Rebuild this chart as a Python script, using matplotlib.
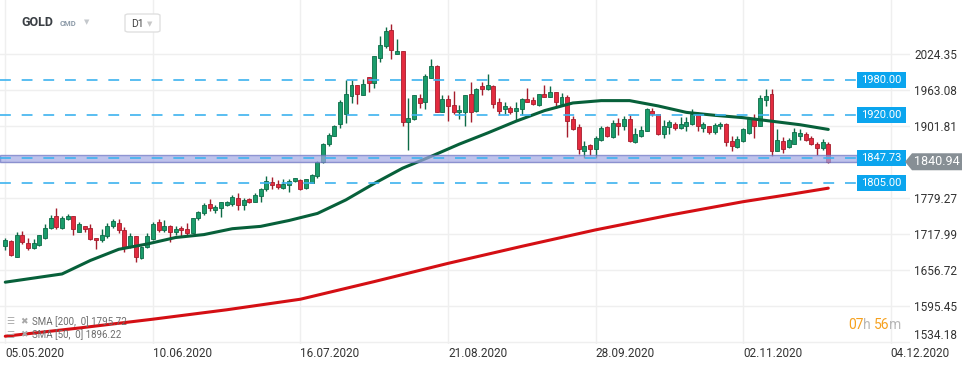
import numpy as np
import matplotlib
matplotlib.use("Agg")
import matplotlib.pyplot as plt
from matplotlib.patches import Rectangle, Polygon, FancyBboxPatch
from matplotlib.transforms import blended_transform_factory

plt.rcParams['font.family'] = ['Roboto', 'DejaVu Sans']

# daily candles, 05.05.2020 .. 23.11.2020 (one per trading day)
opens = [1698, 1706, 1679, 1716, 1703, 1695, 1699, 1712, 1728, 1748,
         1729, 1743, 1748, 1722, 1731, 1728, 1711, 1708, 1715, 1732,
         1737, 1725, 1696, 1714, 1677, 1696, 1710, 1738, 1725, 1732,
         1722, 1728, 1727, 1720, 1746, 1754, 1769, 1759, 1762, 1768,
         1769, 1780, 1767, 1778, 1773, 1783, 1794, 1806, 1803, 1797,
         1801, 1808, 1810, 1796, 1805, 1816, 1841, 1872, 1885, 1905,
         1923, 1953, 1971, 1955, 1985, 1975, 2017, 2038, 2065, 2025,
         2029, 1909, 1914, 1949, 1943, 1984, 2004, 1926, 1947, 1938,
         1925, 1926, 1956, 1928, 1970, 1965, 1970, 1942, 1931, 1932,
         1928, 1930, 1947, 1946, 1938, 1957, 1952, 1959, 1940, 1951,
         1913, 1900, 1860, 1869, 1862, 1878, 1900, 1883, 1907, 1902,
         1913, 1875, 1885, 1894, 1927, 1922, 1888, 1900, 1906, 1898,
         1901, 1906, 1923, 1899, 1901, 1892, 1901, 1905, 1877, 1866,
         1877, 1890, 1914, 1902, 1946, 1957, 1860, 1877, 1866, 1872,
         1885, 1889, 1881, 1872, 1864, 1871]
highs = [1711, 1707, 1722, 1723, 1711, 1709, 1717, 1735, 1750, 1763,
         1749, 1752, 1749, 1738, 1732, 1735, 1712, 1726, 1737, 1743,
         1744, 1730, 1720, 1715, 1697, 1719, 1739, 1744, 1742, 1733,
         1732, 1732, 1736, 1745, 1757, 1771, 1777, 1767, 1773, 1774,
         1785, 1787, 1779, 1779, 1787, 1797, 1817, 1815, 1810, 1812,
         1811, 1814, 1811, 1812, 1820, 1843, 1873, 1890, 1903, 1946,
         1980, 1980, 1972, 1982, 1986, 2021, 2055, 2070, 2075, 2050,
         2029, 1949, 1954, 1957, 1990, 2016, 2006, 1954, 1955, 1961,
         1938, 1955, 1976, 1966, 1976, 1991, 1972, 1949, 1942, 1935,
         1942, 1949, 1966, 1951, 1957, 1972, 1970, 1960, 1958, 1955,
         1918, 1905, 1877, 1872, 1885, 1901, 1902, 1912, 1916, 1918,
         1921, 1898, 1902, 1932, 1932, 1923, 1912, 1912, 1909, 1917,
         1917, 1930, 1926, 1909, 1902, 1907, 1909, 1907, 1885, 1884,
         1898, 1915, 1923, 1955, 1964, 1964, 1896, 1883, 1882, 1898,
         1896, 1892, 1884, 1875, 1880, 1875]
lows = [1690, 1681, 1679, 1701, 1690, 1693, 1698, 1710, 1727, 1727,
        1727, 1741, 1717, 1721, 1721, 1708, 1693, 1705, 1712, 1729,
        1720, 1688, 1694, 1670, 1676, 1694, 1708, 1721, 1722, 1704,
        1716, 1715, 1716, 1719, 1742, 1750, 1757, 1753, 1747, 1766,
        1766, 1758, 1758, 1771, 1772, 1773, 1792, 1795, 1795, 1795,
        1790, 1806, 1793, 1795, 1804, 1814, 1839, 1867, 1884, 1898,
        1907, 1941, 1939, 1954, 1960, 1967, 2010, 2034, 2016, 2024,
        1901, 1861, 1912, 1932, 1930, 1983, 1925, 1925, 1910, 1923,
        1914, 1902, 1909, 1926, 1955, 1963, 1933, 1921, 1923, 1922,
        1911, 1921, 1942, 1938, 1936, 1951, 1951, 1932, 1938, 1883,
        1895, 1855, 1848, 1852, 1848, 1876, 1883, 1882, 1886, 1895,
        1875, 1873, 1883, 1894, 1918, 1886, 1882, 1888, 1895, 1896,
        1894, 1904, 1893, 1892, 1889, 1889, 1897, 1867, 1860, 1865,
        1875, 1888, 1882, 1902, 1936, 1850, 1859, 1856, 1864, 1871,
        1878, 1876, 1869, 1852, 1861, 1838]
closes = [1707, 1682, 1716, 1705, 1695, 1702, 1716, 1729, 1745, 1730,
          1745, 1749, 1726, 1735, 1727, 1709, 1707, 1717, 1731, 1740,
          1724, 1696, 1715, 1679, 1696, 1715, 1735, 1725, 1732, 1722,
          1727, 1724, 1720, 1745, 1755, 1767, 1763, 1764, 1772, 1772,
          1781, 1767, 1776, 1772, 1785, 1795, 1809, 1801, 1798, 1803,
          1809, 1813, 1794, 1811, 1818, 1841, 1872, 1886, 1902, 1942,
          1956, 1971, 1956, 1974, 1975, 2021, 2040, 2063, 2031, 2029,
          1909, 1916, 1954, 1941, 1987, 2004, 1926, 1947, 1936, 1926,
          1929, 1955, 1926, 1964, 1965, 1972, 1940, 1928, 1936, 1926,
          1932, 1947, 1943, 1939, 1956, 1952, 1959, 1942, 1951, 1911,
          1897, 1862, 1868, 1862, 1881, 1898, 1884, 1907, 1901, 1914,
          1876, 1888, 1895, 1930, 1922, 1888, 1902, 1908, 1898, 1905,
          1908, 1923, 1902, 1905, 1891, 1904, 1906, 1875, 1867, 1879,
          1896, 1914, 1901, 1949, 1953, 1859, 1878, 1863, 1878, 1891,
          1890, 1878, 1871, 1864, 1875, 1841]
last_price = 1840.94

# moving averages (bar index, value)
sma50_bars = [0, 5, 10, 15, 20, 25, 30, 35, 40, 45, 50, 55, 60, 65, 70,
              75, 80, 85, 90, 95, 100, 105, 110, 115, 120, 125, 130, 135, 140, 145]
sma50_vals = [1636, 1643, 1650, 1673, 1692, 1701, 1712, 1717, 1727, 1731,
              1741, 1753, 1776, 1804, 1830, 1850, 1871, 1890, 1910, 1928,
              1941, 1945, 1945, 1936, 1925, 1920, 1916, 1910, 1904, 1896]
sma200_bars = [0, 13, 26, 39, 52, 65, 78, 91, 104, 117, 130, 138, 145]
sma200_vals = [1544, 1558, 1573, 1589, 1607, 1637, 1668, 1697, 1725, 1750,
               1773, 1785, 1796]
sma50_last = 1896.22
sma200_last = 1795.72

# horizontal levels
levels = [1980.00, 1920.00, 1847.73, 1805.00]
zone_low, zone_high = 1840.0, 1852.5

y_ticks = [1534.18, 1595.45, 1656.72, 1717.99, 1779.27, 1840.54,
           1901.81, 1963.08, 2024.35]
date_pos = [0, 26, 52, 78, 104, 130, 156]
date_labels = ["05.05.2020", "10.06.2020", "16.07.2020", "21.08.2020",
               "28.09.2020", "02.11.2020", "04.12.2020"]

W, H = 974, 368
fig = plt.figure(figsize=(W / 100, H / 100), dpi=100)
fig.patch.set_facecolor('white')
ax = fig.add_axes([0, (H - 344) / H, 910 / W, 344 / H])

ppx = 61.27 / 36.0
ax.set_ylim(2024.35 - 290 * ppx, 2024.35 + 54 * ppx)
ax.set_xlim(-0.93, 159.4)

for s in ax.spines.values():
    s.set_visible(False)
ax.grid(color='#efefef', lw=1)
ax.set_axisbelow(True)

ax.yaxis.tick_right()
ax.set_yticks(y_ticks)
ax.set_yticklabels(["" if abs(t - last_price) < 20 else f"{t:.2f}" for t in y_ticks])
ax.get_yticklabels()[0].set_va('bottom')
ax.set_xticks(date_pos)
ax.set_xticklabels(date_labels)
plt.setp(ax.get_xticklabels(), ha='left')
ax.tick_params(axis='y', length=0, pad=3, labelsize=8.5, labelcolor='#333333')
ax.tick_params(axis='x', length=0, pad=2, labelsize=8.5, labelcolor='#333333')

# candles
x = np.arange(len(closes))
o = np.array(opens, float)
c = np.array(closes, float)
up = c >= o
face = np.where(up, '#1a9c6b', '#e32b3f')
edge = np.where(up, '#0d6b47', '#a51d2c')
ax.vlines(x, lows, highs, colors=edge, lw=1, zorder=3)
body_h = np.maximum(np.abs(c - o), 1.2)
ax.bar(x, body_h, bottom=np.minimum(o, c), width=0.7, color=face,
       edgecolor=edge, lw=0.6, zorder=4)

# moving averages
ax.plot(sma200_bars, sma200_vals, color='#d40f14', lw=2.2, zorder=5,
        solid_capstyle='round', solid_joinstyle='round')
ax.plot(sma50_bars, sma50_vals, color='#07603a', lw=2.2, zorder=5,
        solid_capstyle='round', solid_joinstyle='round')

# support / resistance levels
bt = blended_transform_factory(ax.transAxes, ax.transData)
ax.add_patch(Rectangle((0, zone_low), 857 / 910, zone_high - zone_low,
                       transform=bt, fc='#a3a8e3', ec='#6d74c4', lw=1,
                       alpha=0.7, zorder=6))
for lv in levels:
    ax.plot([0, 857 / 910], [lv, lv], transform=bt, color='#3db3ef', lw=1.2,
            dashes=(6.5, 6.5), zorder=7)
    ax.add_patch(Rectangle((857 / 910, lv - 8 * ppx), 49 / 910, 16 * ppx,
                           transform=bt, fc='#0ba5ee', ec='none', zorder=8))
    ax.text(881.5 / 910, lv, f"{lv:.2f}", transform=bt, ha='center',
            va='center', color='white', fontsize=8, zorder=9)

# current price tag
ft = blended_transform_factory(fig.transFigure, ax.transData)
hh = 8.5 * ppx
tag = Polygon([(905 / W, last_price), (912 / W, last_price + hh),
               (962 / W, last_price + hh), (962 / W, last_price - hh),
               (912 / W, last_price - hh)], closed=True, transform=ft,
              fc='#878f95', ec='none', clip_on=False, zorder=10)
fig.patches.append(tag)
fig.text(914 / W, last_price, f"{last_price:.2f}", transform=ft,
         color='white', fontsize=9, va='center', ha='left', zorder=11)


def px(xp, yp):
    return xp / W, 1 - yp / H


# header
fig.text(*px(21, 23), "GOLD", fontsize=9, fontweight='bold',
         color='#3a3f44', va='center')
fig.text(*px(60, 24), "CMD", fontsize=5.5, fontweight='bold',
         color='#8c9aa8', va='center')
fig.text(*px(84, 22), "\u25bc", fontsize=5, color='#c4c8cc', va='center',
         family=['DejaVu Sans'])
fig.patches.append(FancyBboxPatch(px(125, 32), 35 / W, 18 / H,
                                  boxstyle='round,pad=0,rounding_size=0.004',
                                  transform=fig.transFigure, fc='white',
                                  ec='#e0e0e0', lw=1))
fig.text(*px(131, 24), "D1", fontsize=7.5, color='#444444', va='center')
fig.text(*px(147, 24), "\u25bc", fontsize=5, color='#c8c8c8', va='center',
         family=['DejaVu Sans'])

# indicator legend
for yy, lab in [(322, f"SMA [200,  0] {sma200_last:.2f}"),
                (335, f"SMA [50,  0] {sma50_last:.2f}")]:
    fig.text(*px(6, yy), "\u2630", fontsize=6.5, color='#a8a8a8',
             va='center', family=['DejaVu Sans'])
    fig.text(*px(20, yy), "\u2716", fontsize=6.5, color='#a8a8a8',
             va='center', family=['DejaVu Sans'])
    fig.text(*px(32, yy), lab, fontsize=7, color='#6e6e6e', va='center')

# candle countdown
for xp, s, col in [(848, "07", '#f6a11e'), (863, "h", '#b8b8b8'),
                   (874, "56", '#f6a11e'), (889, "m", '#b8b8b8')]:
    fig.text(*px(xp, 325), s, fontsize=10, color=col, va='center')

fig.savefig("out.png", dpi=100, facecolor='white')
